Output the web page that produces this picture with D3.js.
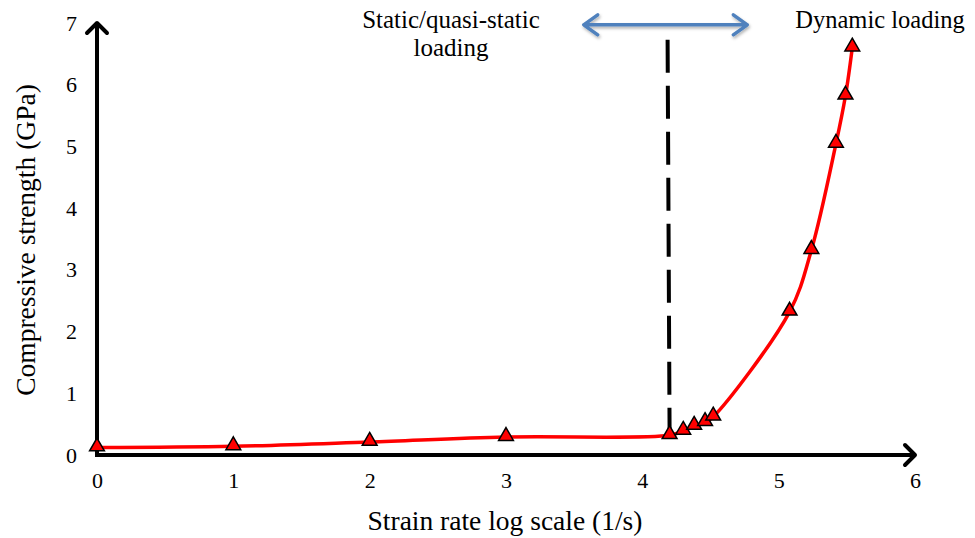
<!DOCTYPE html>
<html>
<head>
<meta charset="utf-8">
<script src="https://cdn.jsdelivr.net/npm/d3@7"></script>
<style>
  body { margin: 0; background: #fff; }
  svg { display: block; font-family: "Liberation Serif", "Times New Roman", serif; }
</style>
</head>
<body>
<svg id="chart" width="975" height="538"></svg>
<script>
// strain rate (log10, 1/s) and compressive strength (GPa)
const strainRate = [0, 1, 2, 3, 4.2, 4.3, 4.38, 4.46, 4.52, 5.08, 5.24, 5.42, 5.49, 5.54];
const strength = [0.12, 0.14, 0.21, 0.29, 0.32, 0.39, 0.47, 0.53, 0.62, 2.32, 3.32, 5.04, 5.82, 6.6];
const xTicks = [0, 1, 2, 3, 4, 5, 6];
const yTicks = [0, 1, 2, 3, 4, 5, 6, 7];

// regime divider and the double arrow above it
const dividerX = 4.2;
const dividerTop = 6.73;
const arrowSpan = [3.57, 4.77];
const arrowLevel = 6.97;

const svg = d3.select('#chart');

const x = d3.scaleLinear().domain([0, 6]).range([97, 915]);
const y = d3.scaleLinear().domain([0, 7]).range([455, 23]);

// tick labels only, no tick marks
const xAxis = svg.append('g')
  .attr('transform', `translate(0,${y(0)})`)
  .call(d3.axisBottom(x).tickValues(xTicks).tickSize(0).tickPadding(17).tickFormat(d3.format('d')));
xAxis.select('.domain').remove();
xAxis.selectAll('text').attr('font-size', 22).attr('font-family', 'Liberation Serif').attr('fill', '#000');

const yAxis = svg.append('g')
  .attr('transform', `translate(${x(0)},0)`)
  .call(d3.axisLeft(y).tickValues(yTicks).tickSize(0).tickPadding(20).tickFormat(d3.format('d')));
yAxis.select('.domain').remove();
yAxis.selectAll('text').attr('font-size', 22).attr('font-family', 'Liberation Serif').attr('fill', '#000');

// axis lines with open arrow heads
const axisG = svg.append('g').attr('stroke', '#000').attr('stroke-width', 4).attr('fill', 'none')
  .attr('stroke-linecap', 'round').attr('stroke-linejoin', 'round');
axisG.append('line').attr('x1', x(0)).attr('y1', y(0)).attr('x2', x(6)).attr('y2', y(0)).attr('stroke-linecap', 'butt');
axisG.append('path').attr('d', `M${x(6) - 10},${y(0) - 10}L${x(6)},${y(0)}L${x(6) - 10},${y(0) + 10}`);
axisG.append('line').attr('x1', x(0)).attr('y1', y(0) + 2).attr('x2', x(0)).attr('y2', y(7)).attr('stroke-linecap', 'butt');
axisG.append('path').attr('d', `M${x(0) - 10},${y(7) + 10}L${x(0)},${y(7)}L${x(0) + 10},${y(7) + 10}`);

// dashed divider
svg.append('line')
  .attr('x1', x(dividerX) - 2).attr('y1', y(dividerTop))
  .attr('x2', x(dividerX)).attr('y2', y(strength[4]))
  .attr('stroke', '#000').attr('stroke-width', 4)
  .attr('stroke-dasharray', '33,13');

// blue double arrow with soft shadow
const defs = svg.append('defs');
const f = defs.append('filter').attr('id', 'shadow').attr('x', '-20%').attr('y', '-100%').attr('width', '140%').attr('height', '300%');
f.append('feDropShadow').attr('dx', 1).attr('dy', 2).attr('stdDeviation', 1.5).attr('flood-color', '#000').attr('flood-opacity', 0.3);

const ax1 = x(arrowSpan[0]), ax2 = x(arrowSpan[1]), ay = y(arrowLevel);
svg.append('path')
  .attr('d', `M${ax1},${ay}L${ax2},${ay}M${ax1 + 14},${ay - 10}L${ax1},${ay}L${ax1 + 14},${ay + 10}M${ax2 - 14},${ay - 10}L${ax2},${ay}L${ax2 - 14},${ay + 10}`)
  .attr('fill', 'none').attr('stroke', '#4F81BD').attr('stroke-width', 3.5)
  .attr('stroke-linecap', 'round').attr('stroke-linejoin', 'round')
  .attr('filter', 'url(#shadow)');

// data line
const pts = strainRate.map((d, i) => [d, strength[i]]);
const line = d3.line().x(d => x(d[0])).y(d => y(d[1])).curve(d3.curveCatmullRom.alpha(0.5));
svg.append('path').datum(pts)
  .attr('d', line)
  .attr('fill', 'none').attr('stroke', '#FF0000').attr('stroke-width', 3.5);

// triangle markers
const tri = d3.symbol().type(d3.symbolTriangle).size(95);
svg.selectAll('.marker').data(pts).enter().append('path')
  .attr('class', 'marker')
  .attr('d', tri)
  .attr('transform', d => `translate(${x(d[0])},${y(d[1]) - 1})`)
  .attr('fill', '#FF0000').attr('stroke', '#000').attr('stroke-width', 1.5)
  .attr('stroke-linejoin', 'miter');

// text labels
const txt = svg.append('g').attr('fill', '#000');
txt.append('text').attr('x', 505).attr('y', 530).attr('text-anchor', 'middle').attr('font-size', 27.5).text('Strain rate log scale (1/s)');
txt.append('text').attr('transform', 'translate(35,240) rotate(-90)').attr('text-anchor', 'middle').attr('font-size', 27.5).text('Compressive strength (GPa)');
txt.append('text').attr('x', 451).attr('y', 28).attr('text-anchor', 'middle').attr('font-size', 25).text('Static/quasi-static');
txt.append('text').attr('x', 451).attr('y', 56).attr('text-anchor', 'middle').attr('font-size', 25).text('loading');
txt.append('text').attr('x', 880).attr('y', 28).attr('text-anchor', 'middle').attr('font-size', 24.5).text('Dynamic loading');
</script>
</body>
</html>
